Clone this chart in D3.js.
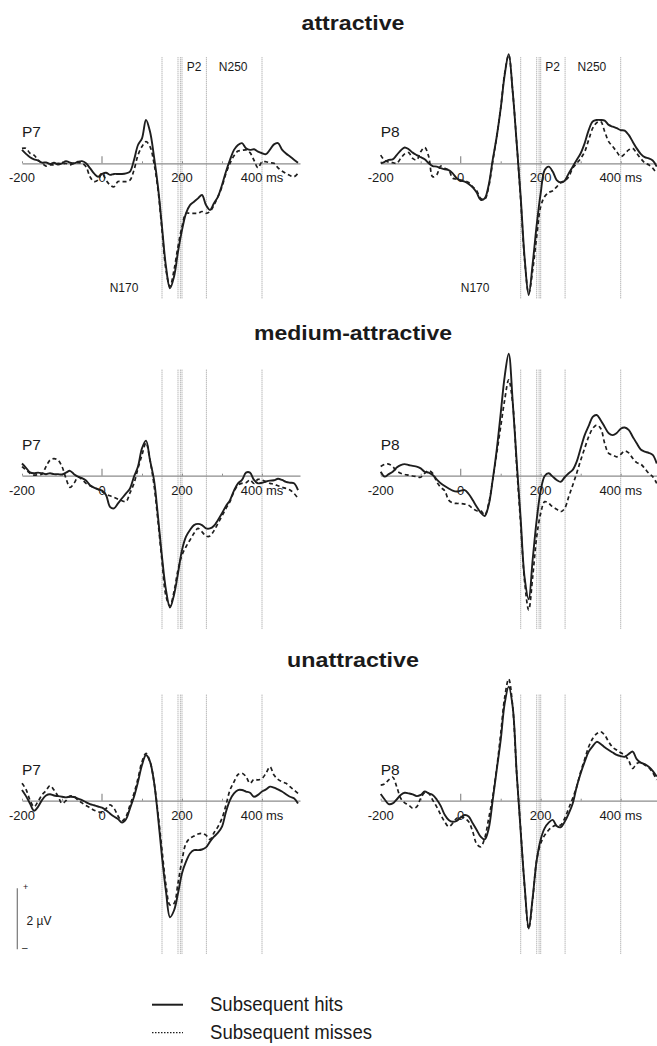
<!DOCTYPE html>
<html>
<head>
<meta charset="utf-8">
<script src="https://cdn.jsdelivr.net/npm/d3@7"></script>
<style>
  html, body { margin: 0; padding: 0; background: #fff; }
  svg { display: block; }
  text { font-family: "Liberation Sans", Arial, Helvetica, sans-serif; fill: #1a1a1a; }
</style>
</head>
<body>
<svg id="chart" width="657" height="1046"></svg>
<script>
// Sampling times of the grand-average waveforms (ms relative to face onset)
const times = d3.range(-200, 500, 10);

// Grand-average amplitudes (µV), one value per sample in `times`
const attractiveP7Hits = [
  0.44, 0.31, 0.2, 0.13, 0.09, 0.02, 0.03, -0.02, 0.02, -0.04, 0, 0.07, 0.02, 0, 0.05, 0.07, 0, -0.16, -0.33, -0.44,
  -0.35, -0.31, -0.38, -0.35, -0.35, -0.35, -0.33, -0.27, 0.11, 0.6,
  0.82, 1.42, 1.04, 0.22, -0.77, -2.08, -3.39, -4.1, -3.72, -2.9,
  -2.19, -1.64, -1.37, -1.26, -1.15, -1.04, -1.37, -1.53, -1.31, -1.09,
  -0.71, -0.27, 0.11, 0.44, 0.6, 0.66, 0.49, 0.44, 0.46, 0.38,
  0.33, 0.3, 0.45, 0.62, 0.66, 0.45, 0.32, 0.22, 0.12, 0.02
];
const attractiveP7Misses = [
  0.49, 0.49, 0.33, 0.27, 0.11, 0, -0.09, -0.05, -0.05, 0, -0.02, 0, -0.05, 0, 0.02, 0, -0.11, -0.44, -0.6, -0.55,
  -0.33, -0.55, -0.71, -0.77, -0.6, -0.6, -0.6, -0.55, -0.22, 0.27,
  0.55, 0.71, 0.55, 0, -0.87, -2.19, -3.5, -4.04, -3.5, -2.73,
  -2.08, -1.64, -1.64, -1.64, -1.64, -1.58, -1.64, -1.58, -1.37, -1.09,
  -0.77, -0.33, 0, 0.25, 0.4, 0.42, 0.44, 0.35, 0.1, -0.15,
  0.05, 0.05, 0.02, 0, -0.15, -0.25, -0.33, -0.4, -0.44, -0.33
];
const attractiveP8Hits = [
  0, 0.05, 0.11, 0.13, 0.27, 0.42, 0.52, 0.46, 0.35, 0.27, 0.2, 0.13, 0, -0.09, -0.11, -0.16, -0.2, -0.22, -0.33, -0.49,
  -0.57, -0.6, -0.68, -0.79, -0.96, -1.2, -1.15, -0.71, 0.11, 0.87,
  1.8, 2.9, 3.58, 2.35, 0.66, -1.11, -3.13, -4.32, -3.28, -2.02,
  -0.98, -0.22, -0.11, -0.27, -0.55, -0.63, -0.57, -0.33, -0.11, 0.11,
  0.33, 0.66, 1.09, 1.37, 1.42, 1.42, 1.4, 1.26, 1.2, 1.15,
  1.09, 1.07, 0.93, 0.71, 0.49, 0.31, 0.2, 0.16, 0.09, -0.11
];
const attractiveP8Misses = [
  0.27, 0.09, 0.04, 0.02, 0, 0.16, 0.31, 0.35, 0.16, 0.11, 0.38, 0.52, 0.22, -0.44, -0.38, -0.09, -0.16, -0.22, -0.49, -0.52,
  -0.55, -0.57, -0.63, -0.77, -0.9, -1.15, -1.18, -0.77, 0.05, 0.87,
  1.8, 2.95, 3.55, 2.35, 0.66, -1.2, -3.2, -4.26, -3.5, -2.4,
  -1.42, -1.09, -0.96, -0.9, -0.77, -0.63, -0.57, -0.44, -0.16, 0,
  0.16, 0.38, 0.77, 1.15, 1.33, 1.37, 1.04, 0.71, 0.55, 0.38,
  0.22, 0.31, 0.44, 0.49, 0.33, 0.16, 0.02, -0.05, -0.16, -0.33
];
const mediumP7Hits = [
  0.4, 0.26, 0.11, 0.08, 0.1, 0.08, 0.05, 0.08, 0.05, 0.05, 0.04, 0.1, 0.16, 0.05, -0.03, -0.08, -0.16, -0.31, -0.39, -0.44,
  -0.49, -0.63, -1.02, -1.07, -0.91, -0.74, -0.58, -0.42, -0.03, 0.3,
  0.9, 1.15, 0.51, -0.14, -1.34, -2.66, -3.75, -4.32, -3.91, -3.2,
  -2.44, -2.0, -1.78, -1.62, -1.58, -1.62, -1.73, -1.73, -1.64, -1.45,
  -1.23, -0.99, -0.8, -0.49, -0.25, -0.14, 0.1, 0.1, -0.14, -0.25,
  -0.23, -0.19, -0.16, -0.15, -0.1, -0.14, -0.2, -0.23, -0.25, -0.47
];
const mediumP7Misses = [
  0.3, 0.19, 0.08, 0.02, 0.03, 0.05, 0.3, 0.51, 0.56, 0.51, 0.3, -0.09, -0.38, -0.25, -0.05, -0.12, -0.25, -0.33, -0.39, -0.45,
  -0.52, -0.6, -0.66, -0.71, -0.77, -0.82, -0.85, -0.56, -0.25, 0.24,
  0.68, 1.08, 0.51, -0.3, -1.5, -2.8, -3.95, -4.27, -3.8, -3.09,
  -2.6, -2.33, -2.11, -1.89, -1.73, -1.84, -1.98, -1.98, -1.8, -1.56,
  -1.32, -1.07, -0.85, -0.52, -0.31, -0.25, -0.23, -0.14, -0.25, -0.12,
  -0.14, -0.2, -0.25, -0.28, -0.33, -0.38, -0.42, -0.47, -0.58, -0.74
];
const mediumP8Hits = [
  0.13, -0.03, 0.05, 0.13, 0.27, 0.35, 0.38, 0.35, 0.32, 0.3, 0.24, 0.13, 0.1, 0.02, -0.12, -0.25, -0.34, -0.42, -0.49, -0.52,
  -0.49, -0.47, -0.6, -0.8, -1.02, -1.21, -1.32, -0.96, -0.14, 0.84,
  2.04, 3.26, 4.0, 2.43, 0.46, -1.43, -3.37, -4.05, -2.74, -1.45,
  -0.49, -0.01, 0.08, -0.03, -0.14, -0.2, -0.05, 0.08, 0.19, 0.46,
  0.9, 1.33, 1.63, 1.93, 1.99, 1.82, 1.6, 1.39, 1.33, 1.4,
  1.54, 1.58, 1.5, 1.28, 1.06, 0.86, 0.79, 0.75, 0.68, 0.4
];
const mediumP8Misses = [
  0.3, 0.37, 0.38, 0.3, 0.16, 0.08, 0.04, 0.02, -0.01, -0.03, -0.05, 0.08, 0.16, 0.08, -0.2, -0.38, -0.49, -0.8, -0.89, -0.91,
  -0.91, -0.93, -0.97, -1.07, -1.15, -1.15, -1.29, -0.91, -0.14, 0.73,
  1.61, 2.49, 3.14, 2.37, 0.3, -1.6, -3.5, -4.4, -3.31, -2.0,
  -1.23, -0.85, -0.91, -1.02, -1.1, -1.18, -1.07, -0.69, -0.31, 0.08,
  0.51, 0.9, 1.28, 1.55, 1.66, 1.55, 1.06, 0.73, 0.68, 0.62,
  0.7, 0.81, 0.75, 0.57, 0.43, 0.38, 0.24, 0.08, -0.03, -0.25
];
const unattractiveP7Hits = [
  0.35, 0.15, -0.09, -0.33, -0.2, 0.02, 0.17, 0.21, 0.17, 0.15, 0.13, 0.11, 0.13, 0.12, 0.07, 0.02, -0.05, -0.11, -0.15, -0.19,
  -0.23, -0.31, -0.42, -0.52, -0.6, -0.72, -0.61, -0.25, 0.13, 0.62,
  1.17, 1.5, 1.28, 0.62, -0.52, -1.84, -2.98, -3.82, -3.6, -3.04,
  -2.38, -2.0, -1.73, -1.62, -1.62, -1.6, -1.53, -1.34, -1.18, -1.05,
  -0.85, -0.36, 0.02, 0.24, 0.35, 0.35, 0.3, 0.26, 0.13, 0.19,
  0.3, 0.37, 0.46, 0.43, 0.37, 0.3, 0.21, 0.13, 0.08, -0.09
];
const unattractiveP7Misses = [
  0.57, 0.37, 0.02, -0.2, -0.03, 0.19, 0.33, 0.49, 0.35, 0.15, -0.09, 0, 0.15, 0.13, 0.02, -0.07, -0.16, -0.23, -0.31, -0.36,
  -0.39, -0.26, -0.14, -0.25, -0.5, -0.66, -0.52, -0.14, 0.24, 0.73,
  1.28, 1.55, 1.28, 0.62, -0.42, -1.62, -2.77, -3.42, -3.37, -2.7,
  -1.95, -1.4, -1.23, -1.16, -1.09, -1.07, -1.13, -1.27, -1.05, -0.85,
  -0.58, -0.14, 0.35, 0.62, 0.86, 0.9, 0.79, 0.57, 0.7, 0.68,
  0.73, 0.9, 1.11, 0.84, 0.7, 0.62, 0.57, 0.46, 0.35, 0.24
];
const unattractiveP8Hits = [
  0.22, 0.04, -0.11, -0.09, 0.04, 0.19, 0.26, 0.24, 0.21, 0.15, 0.19, 0.3, 0.24, 0.19, 0.04, -0.17, -0.46, -0.63, -0.69, -0.66,
  -0.55, -0.47, -0.52, -0.74, -0.96, -1.18, -1.27, -0.91, 0.02, 1.01,
  1.99, 3.19, 3.74, 3.08, 0.9, -1.02, -2.82, -4.19, -3.17, -1.95,
  -1.27, -0.9, -0.72, -0.63, -0.83, -0.87, -0.69, -0.42, -0.09, 0.46,
  0.9, 1.28, 1.61, 1.79, 1.93, 1.86, 1.75, 1.66, 1.58, 1.5,
  1.46, 1.44, 1.53, 1.61, 1.36, 1.25, 1.2, 1.11, 0.98, 0.79
];
const unattractiveP8Misses = [
  0.51, 0.55, 0.68, 0.77, 0.46, 0.08, -0.07, -0.14, -0.25, -0.2, 0.08, 0.26, 0.24, 0.02, -0.2, -0.46, -0.69, -0.85, -0.74, -0.58,
  -0.52, -0.58, -0.69, -1.01, -1.42, -1.51, -1.23, -0.58, 0.13, 1.06,
  2.19, 3.39, 3.99, 3.08, 0.89, -0.96, -2.87, -4.19, -3.22, -1.95,
  -1.4, -1.13, -0.96, -0.85, -0.8, -0.8, -0.58, -0.25, 0.08, 0.46,
  0.95, 1.36, 1.77, 2.04, 2.2, 2.26, 2.15, 1.93, 1.75, 1.66,
  1.57, 1.5, 1.31, 1.06, 1.22, 1.25, 1.17, 1.09, 0.92, 0.68
];

// Condition titles, electrodes and annotation text
const conditions = ["attractive", "medium-attractive", "unattractive"];
const electrodes = ["P7", "P8"];
const hits = [
  [attractiveP7Hits, attractiveP8Hits],
  [mediumP7Hits, mediumP8Hits],
  [unattractiveP7Hits, unattractiveP8Hits]
];
const misses = [
  [attractiveP7Misses, attractiveP8Misses],
  [mediumP7Misses, mediumP8Misses],
  [unattractiveP7Misses, unattractiveP8Misses]
];
const windowBounds = [150, 190, 196, 200, 261, 400];   // analysis window edges (ms)
const tickValues = [-200, 0, 200, 400];
const tickLabels = ["-200", "0", "200", "400 ms"];
const minorTicks = [-200, -100, 100, 200, 300, 400];
const windowLabels = ["P2", "N250"];
const windowLabelTimes = [230, 328];
const peakLabel = "N170";
const peakLabelTimes = [55, 36];
const scaleBarValue = 2;           // µV
const scaleBarText = "2 µV";
const legendLabels = ["Subsequent hits", "Subsequent misses"];

// ---- layout ----
const svg = d3.select("#chart");
const zeroX = [102, 460.7];          // x position of 0 ms in each column
const rowBase = [163.3, 475.7, 800.7]; // y position of 0 µV in each row
const msPx = 0.4, uvPx = 30.5;
const titleY = [29.5, 339.5, 666.5];
const titleLen = [103, 198, 132];
const windowTop = -106, windowBottom = [136, 154, 154];

const line = (x, y) => d3.line()
  .x((d, i) => x(times[i]))
  .y(d => y(d))
  .curve(d3.curveCatmullRom.alpha(0.5));

conditions.forEach((cond, r) => {
  svg.append("text")
    .attr("x", 353).attr("y", titleY[r])
    .attr("text-anchor", "middle")
    .attr("font-size", 21).attr("font-weight", "bold")
    .attr("textLength", titleLen[r]).attr("lengthAdjust", "spacingAndGlyphs")
    .text(cond);

  electrodes.forEach((el, c) => {
    const x = d3.scaleLinear().domain([0, 100]).range([zeroX[c], zeroX[c] + 100 * msPx]);
    const y = d3.scaleLinear().domain([0, 1]).range([rowBase[r], rowBase[r] - uvPx]);
    const g = svg.append("g");

    // analysis window boundaries
    g.selectAll("line.win").data(windowBounds).join("line")
      .attr("x1", d => x(d)).attr("x2", d => x(d))
      .attr("y1", rowBase[r] + windowTop).attr("y2", rowBase[r] + windowBottom[r])
      .attr("stroke", "#9a9a9a").attr("stroke-width", 1)
      .attr("stroke-dasharray", "1,1");

    // time axis
    const axis = d3.axisTop(x.copy().domain([-200, 495]).range([x(-200), x(495)]))
      .tickValues(minorTicks).tickSize(2).tickSizeOuter(0).tickFormat("");
    const ax = g.append("g").attr("transform", `translate(0,${rowBase[r]})`).call(axis);
    ax.select(".domain").attr("stroke", "#8c8c8c").attr("stroke-width", 1.3);
    ax.selectAll(".tick line").attr("stroke", "#8c8c8c");
    ax.append("line").attr("x1", x(0)).attr("x2", x(0)).attr("y1", 0).attr("y2", -7)
      .attr("stroke", "#8c8c8c").attr("stroke-width", 1.2);

    g.selectAll("text.tick").data(tickValues).join("text")
      .attr("x", d => x(d)).attr("y", rowBase[r] + 19)
      .attr("text-anchor", "middle").attr("font-size", 13)
      .text((d, i) => tickLabels[i]);

    // electrode label
    g.append("text").attr("x", x(-200)).attr("y", rowBase[r] - 26)
      .attr("font-size", 15.5).text(el);

    if (r === 0) {
      g.selectAll("text.win").data(windowLabels).join("text")
        .attr("x", (d, i) => x(windowLabelTimes[i])).attr("y", rowBase[r] - 92.6)
        .attr("text-anchor", "middle").attr("font-size", 12).text(d => d);
      g.append("text").attr("x", x(peakLabelTimes[c])).attr("y", rowBase[r] + 129)
        .attr("text-anchor", "middle").attr("font-size", 12).text(peakLabel);
    }

    // waveforms
    g.append("path").datum(misses[r][c]).attr("d", line(x, y))
      .attr("fill", "none").attr("stroke", "#1e1e1e").attr("stroke-width", 1.7)
      .attr("stroke-dasharray", "4,3").attr("stroke-linejoin", "round");
    g.append("path").datum(hits[r][c]).attr("d", line(x, y))
      .attr("fill", "none").attr("stroke", "#1e1e1e").attr("stroke-width", 1.9)
      .attr("stroke-linejoin", "round");
  });
});

// amplitude scale bar
const sy = d3.scaleLinear().domain([0, scaleBarValue]).range([949.3, 949.3 - scaleBarValue * uvPx]);
svg.append("line").attr("x1", 17.3).attr("x2", 17.3).attr("y1", sy(0)).attr("y2", sy(scaleBarValue))
  .attr("stroke", "#777").attr("stroke-width", 1.2);
svg.append("text").attr("x", 23).attr("y", sy(scaleBarValue) + 2).attr("font-size", 9).attr("fill", "#555").text("+");
svg.append("text").attr("x", 22).attr("y", sy(0) + 2).attr("font-size", 10).attr("fill", "#555").text("–");
svg.append("text").attr("x", 26.5).attr("y", 925).attr("font-size", 12).text(scaleBarText);

// legend
const legendY = [1004.7, 1032.7];
const legendTextLen = [133, 162];
legendLabels.forEach((lab, i) => {
  svg.append("line").attr("x1", 152).attr("x2", 183).attr("y1", legendY[i]).attr("y2", legendY[i])
    .attr("stroke", "#1e1e1e").attr("stroke-width", i === 0 ? 2 : 1.3)
    .attr("stroke-dasharray", i === 0 ? null : "1.5,1.5");
  svg.append("text").attr("x", 210).attr("y", legendY[i] + 6.3)
    .attr("font-size", 21).attr("textLength", legendTextLen[i]).attr("lengthAdjust", "spacingAndGlyphs")
    .text(lab);
});
</script>
</body>
</html>
